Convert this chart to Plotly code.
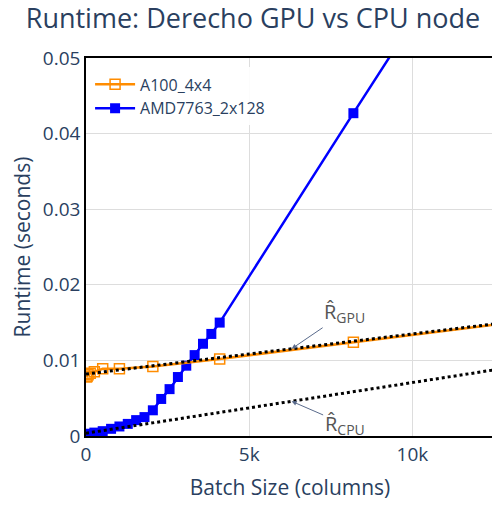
import plotly.graph_objects as go

# ---- data ----
gpu_x = [16, 32, 64, 128, 256, 512, 1024, 2048, 4096, 8192, 16384]
gpu_y = [0.0078, 0.0079, 0.0081, 0.0083, 0.0085, 0.0089, 0.0089, 0.0092, 0.0102, 0.0124, 0.0168]

cpu_x = [16, 32, 64, 128, 256, 512, 768, 1024, 1280, 1536, 1792, 2048,
         2304, 2560, 2816, 3072, 3328, 3584, 3840, 4096, 8192, 16384]
cpu_y = [0.0002, 0.0002, 0.00025, 0.0003, 0.00045, 0.00064, 0.00095, 0.00126, 0.0016, 0.0021, 0.0025, 0.0034,
         0.0049, 0.0062, 0.0078, 0.0093, 0.0107, 0.0122, 0.0135, 0.0150, 0.0427, 0.0976]

# fitted models: intercept (s), slope (s per column)
fit_x = [0, 12500]
gpu_fit = (0.0082, 5.3e-7)
cpu_fit = (0.00037, 6.7e-7)

fig = go.Figure()
fig.add_trace(go.Scatter(
    x=cpu_x, y=cpu_y, mode="lines+markers", name="AMD7763_2x128",
    line=dict(color="#0000ff", width=2.5),
    marker=dict(symbol="square", size=10, color="#0000ff"),
))
fig.add_trace(go.Scatter(
    x=gpu_x, y=gpu_y, mode="lines+markers", name="A100_4x4",
    line=dict(color="#ff8c00", width=2.5),
    marker=dict(symbol="square-open", size=10, color="#ff8c00", line=dict(width=1.5)),
))
fig.add_trace(go.Scatter(
    x=fit_x, y=[gpu_fit[0] + gpu_fit[1] * v for v in fit_x], mode="lines",
    line=dict(color="black", width=3, dash="dot"), showlegend=False,
))
fig.add_trace(go.Scatter(
    x=fit_x, y=[cpu_fit[0] + cpu_fit[1] * v for v in fit_x], mode="lines",
    line=dict(color="black", width=3, dash="dot"), showlegend=False,
))

ann_x = 6300
fig.add_annotation(
    x=ann_x, y=gpu_fit[0] + gpu_fit[1] * ann_x, text="R\u0302<sub>GPU</sub>",
    ax=53, ay=-36, showarrow=True, arrowhead=2, arrowsize=1, arrowwidth=1,
    arrowcolor="#5a6b8c", font=dict(size=20, color="#555555"),
)
fig.add_annotation(
    x=ann_x, y=cpu_fit[0] + cpu_fit[1] * ann_x, text="R\u0302<sub>CPU</sub>",
    ax=53, ay=23, showarrow=True, arrowhead=2, arrowsize=1, arrowwidth=1,
    arrowcolor="#5a6b8c", font=dict(size=20, color="#555555"),
)

fig.update_layout(
    width=500, height=508,
    template="plotly_white",
    font=dict(family="Open Sans", color="#2a3f5f"),
    title=dict(text="Runtime: Derecho GPU vs CPU node", x=0.49, xanchor="center",
               y=0.997, yanchor="top", font=dict(size=27)),
    margin=dict(l=78, r=14, t=50, b=80),
    legend=dict(x=0.01, y=0.975, xanchor="left", yanchor="top", traceorder="reversed",
                font=dict(size=16), itemwidth=40, tracegroupgap=4,
                bgcolor="rgba(255,255,255,0.9)"),
    plot_bgcolor="white",
)
fig.update_xaxes(
    range=[0, 12500], tickvals=[0, 5000, 10000], ticktext=["0", "5k", "10k"],
    title=dict(text="Batch Size (columns)", font=dict(size=21)),
    tickfont=dict(size=19), showline=True, linecolor="black", linewidth=1.5, mirror=True,
    gridcolor="#dddddd", zeroline=False, automargin=False,
)
fig.update_yaxes(
    range=[0, 0.05], tickvals=[0, 0.01, 0.02, 0.03, 0.04, 0.05],
    ticktext=["0", "0.01", "0.02", "0.03", "0.04", "0.05"],
    title=dict(text="Runtime (seconds)", font=dict(size=21)),
    tickfont=dict(size=19), showline=True, linecolor="black", linewidth=1.5, mirror=True,
    gridcolor="#dddddd", zeroline=False, automargin=False,
)

fig.write_html("out.html")
